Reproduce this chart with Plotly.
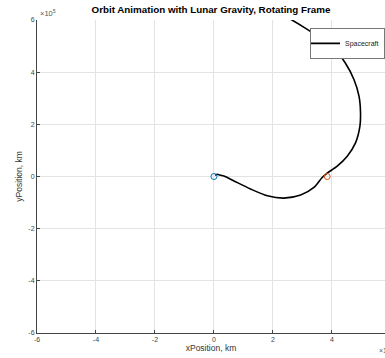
import plotly.graph_objects as go

# Spacecraft trajectory (units of 1e5 km)
sc_x = [0.04, 0.09, 0.16, 0.34, 0.68, 1.24, 1.81, 2.37, 2.94, 3.39, 3.67, 3.84,
        4.18, 4.52, 4.80, 4.95, 4.97, 4.92, 4.75, 4.46, 4.07, 3.62, 3.11, 2.66, 2.40]
sc_y = [0.04, 0.08, 0.07, 0.02, -0.17, -0.48, -0.74, -0.83, -0.71, -0.42, -0.04, 0.13,
        0.40, 0.78, 1.29, 1.93, 2.44, 3.07, 3.71, 4.34, 4.91, 5.30, 5.68, 5.99, 6.15]
earth_x, earth_y = [0.0], [0.0]
moon_x, moon_y = [3.84], [0.0]
tick_vals = [-6, -4, -2, 0, 2, 4, 6]
tick_text = ["-6", "-4", "-2", "0", "2", "4", "6"]

fig = go.Figure()
fig.add_trace(go.Scatter(x=sc_x, y=sc_y, mode="lines", name="Spacecraft",
                         line=dict(color="black", width=1.6, shape="spline", smoothing=0.8),
                         cliponaxis=True))
fig.add_trace(go.Scatter(x=earth_x, y=earth_y, mode="markers", showlegend=False,
                         marker=dict(symbol="circle-open", size=6, color="#0072BD", line=dict(width=1))))
fig.add_trace(go.Scatter(x=moon_x, y=moon_y, mode="markers", showlegend=False,
                         marker=dict(symbol="circle-open", size=6, color="#D95319", line=dict(width=1))))

axis_common = dict(
    showgrid=True, gridcolor="#e3e3e3", gridwidth=1,
    zeroline=False, showline=True, linecolor="#444", linewidth=1,
    ticks="inside", ticklen=3, tickcolor="#444",
    tickfont=dict(family="Liberation Sans, Arial", size=7, color="#444"),
    tickvals=tick_vals, ticktext=tick_text,
)

fig.update_layout(
    width=385, height=358,
    margin=dict(l=37, r=0, t=20, b=25),
    paper_bgcolor="white", plot_bgcolor="white",
    title=dict(text="<b>Orbit Animation with Lunar Gravity, Rotating Frame</b>",
               x=0.5, xref="paper", y=0.972, yref="container", xanchor="center", yanchor="middle",
               font=dict(family="Liberation Sans, Arial", size=9.8, color="black")),
    xaxis=dict(range=[-6, 5.8], **axis_common,
               title=dict(text="xPosition, km", standoff=1,
                          font=dict(family="Liberation Sans, Arial", size=8.5, color="#333"))),
    yaxis=dict(range=[-6, 6], **axis_common,
               title=dict(text="yPosition, km", standoff=4,
                          font=dict(family="Liberation Sans, Arial", size=8.5, color="#333"))),
    legend=dict(x=1.0, y=0.975, xanchor="right", yanchor="top",
                bgcolor="white", bordercolor="#777", borderwidth=1,
                font=dict(family="Liberation Sans, Arial", size=7, color="#222"),
                itemwidth=30, tracegroupgap=0, indentation=-6),
    showlegend=True,
    annotations=[
        dict(text="×10<sup>5</sup>", x=0.0, y=1.0, xref="paper", yref="paper",
             xanchor="left", yanchor="bottom", xshift=1, showarrow=False,
             font=dict(family="Liberation Sans, Arial", size=7.5, color="#555")),
        dict(text="×10", x=1.0, y=0.0, xref="paper", yref="paper",
             xanchor="left", yanchor="top", xshift=-8, yshift=-12, showarrow=False,
             font=dict(family="Liberation Sans, Arial", size=7, color="#555")),
    ],
)

fig.write_html("out.html")
